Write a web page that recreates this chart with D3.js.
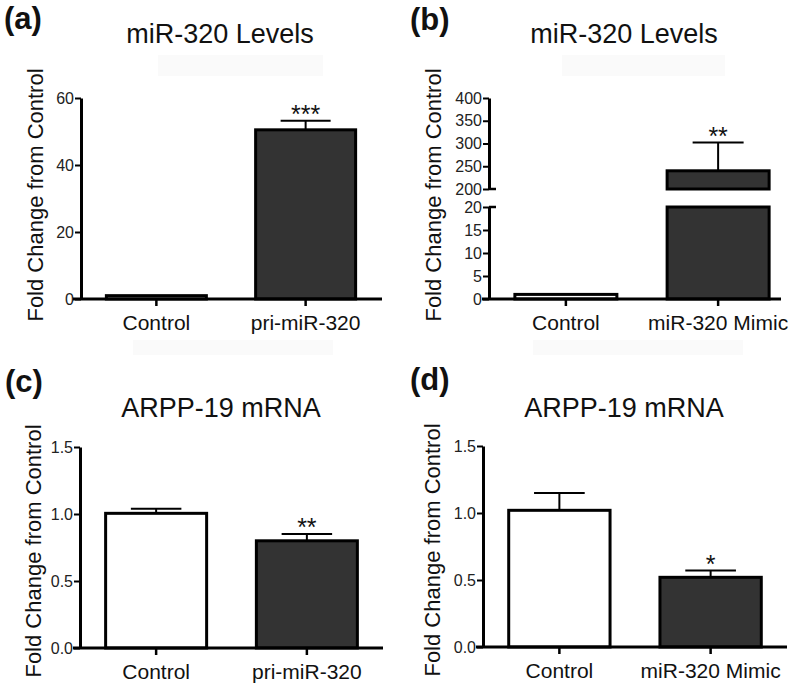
<!DOCTYPE html>
<html>
<head>
<meta charset="utf-8">
<script src="https://cdn.jsdelivr.net/npm/d3@7"></script>
<style>
  body { margin: 0; background: #fff; }
  svg { display: block; font-family: "Liberation Sans", Arial, sans-serif; }
</style>
</head>
<body>
<svg id="fig" width="800" height="694"></svg>
<script>
// ---- data ----
const panelLabels = ["(a)", "(b)", "(c)", "(d)"];
const panelTitles = ["miR-320 Levels", "miR-320 Levels", "ARPP-19 mRNA", "ARPP-19 mRNA"];
const yLabel = "Fold Change from Control";

const categoriesPri = ["Control", "pri-miR-320"];
const categoriesMimic = ["Control", "miR-320 Mimic"];

const meansA = [1, 50.5];
const errA = [0, 2.7];
const starsA = ["", "***"];

const meansB = [1, 240];
const errB = [0, 62];
const starsB = ["", "**"];

const meansC = [1.005, 0.80];
const errC = [0.035, 0.05];
const starsC = ["", "**"];

const meansD = [1.02, 0.52];
const errD = [0.13, 0.05];
const starsD = ["", "*"];

const ticksA = [0, 20, 40, 60];
const ticksBLow = [0, 5, 10, 15, 20];
const ticksBHigh = [200, 250, 300, 350, 400];
const ticksCD = [0, 0.5, 1.0, 1.5];

const barFill = ["#ffffff", "#333333"];

const svg = d3.select("#fig");

// faint grey blocks left over in the original image
const ghosts = [
  [158, 55, 165, 21], [562, 55, 163, 21],
  [133, 340, 200, 15], [533, 340, 210, 15]
];
svg.selectAll("rect.ghost").data(ghosts).join("rect")
  .attr("class", "ghost")
  .attr("x", d => d[0]).attr("y", d => d[1])
  .attr("width", d => d[2]).attr("height", d => d[3])
  .attr("fill", "#fafafa");

const fmtInt = d3.format("d");
const fmt1 = d3.format(".1f");

// one entry per panel; segments = pieces of the (possibly broken) y axis
const panels = [
  {
    label: panelLabels[0], title: panelTitles[0], cats: categoriesPri,
    means: meansA, errs: errA, stars: starsA,
    ax: 81, xStart: 73, xEnd: 382, base: 299, bandEnd: 381,
    titleX: 220, titleY: 43, labX: 4, labY: 29, yLabX: 35, yLabY: 195,
    segments: [{ domain: [0, 60], range: [299, 98], ticks: ticksA, fmt: fmtInt }]
  },
  {
    label: panelLabels[1], title: panelTitles[1], cats: categoriesMimic,
    means: meansB, errs: errB, stars: starsB,
    ax: 489, xStart: 482, xEnd: 781, base: 299, bandEnd: 795,
    titleX: 624, titleY: 43, labX: 410, labY: 30, yLabX: 433, yLabY: 195,
    segments: [
      { domain: [0, 20], range: [299, 207], ticks: ticksBLow, fmt: fmtInt },
      { domain: [200, 400], range: [189, 98], ticks: ticksBHigh, fmt: fmtInt }
    ]
  },
  {
    label: panelLabels[2], title: panelTitles[2], cats: categoriesPri,
    means: meansC, errs: errC, stars: starsC,
    ax: 80, xStart: 73, xEnd: 383, base: 648, bandEnd: 383,
    titleX: 221, titleY: 417, labX: 5, labY: 392, yLabX: 33, yLabY: 551,
    segments: [{ domain: [0, 1.5], range: [648, 447], ticks: ticksCD, fmt: fmt1 }]
  },
  {
    label: panelLabels[3], title: panelTitles[3], cats: categoriesMimic,
    means: meansD, errs: errD, stars: starsD,
    ax: 483, xStart: 476, xEnd: 787, base: 647, bandEnd: 787,
    titleX: 624, titleY: 417, labX: 410, labY: 390, yLabX: 432, yLabY: 550,
    segments: [{ domain: [0, 1.5], range: [647, 446], ticks: ticksCD, fmt: fmt1 }]
  }
];

panels.forEach(p => {
  const g = svg.append("g");

  const x = d3.scaleBand()
    .domain(p.cats)
    .range([p.ax, p.bandEnd])
    .paddingInner(0.33)
    .paddingOuter(0.17);

  const scales = p.segments.map(s => d3.scaleLinear().domain(s.domain).range(s.range));
  const segFor = v => scales.find(s => v >= s.domain()[0] && v <= s.domain()[1]) || scales[scales.length - 1];

  // bars, split over axis segments
  p.cats.forEach((c, i) => {
    const v = p.means[i];
    scales.forEach(s => {
      const [lo, hi] = s.domain();
      if (v <= lo) return;
      const top = s(Math.min(v, hi));
      g.append("rect")
        .attr("x", x(c))
        .attr("y", top)
        .attr("width", x.bandwidth())
        .attr("height", s(lo) - top)
        .attr("fill", barFill[i])
        .attr("stroke", "#000")
        .attr("stroke-width", 3);
    });

    // upper error bar
    const e = p.errs[i];
    if (e > 0) {
      const cx = x(c) + x.bandwidth() / 2;
      const yTop = segFor(v + e)(v + e);
      const yBar = segFor(v)(v);
      g.append("line")
        .attr("x1", cx).attr("x2", cx)
        .attr("y1", yBar).attr("y2", yTop)
        .attr("stroke", "#000").attr("stroke-width", 2);
      g.append("line")
        .attr("x1", cx - x.bandwidth() / 4).attr("x2", cx + x.bandwidth() / 4)
        .attr("y1", yTop).attr("y2", yTop)
        .attr("stroke", "#000").attr("stroke-width", 2);
      if (p.stars[i]) {
        g.append("text")
          .attr("x", cx)
          .attr("y", yTop + 2)
          .attr("text-anchor", "middle")
          .attr("font-size", 25)
          .attr("fill", "#111")
          .text(p.stars[i]);
      }
    }
  });

  // y axis (one piece per segment)
  p.segments.forEach((s, k) => {
    const ya = g.append("g")
      .attr("transform", `translate(${p.ax},0)`)
      .call(d3.axisLeft(scales[k])
        .tickValues(s.ticks)
        .tickFormat(s.fmt)
        .tickSize(6)
        .tickSizeOuter(0)
        .tickPadding(1));
    ya.select(".domain").attr("stroke-width", 3);
    ya.selectAll(".tick line").attr("stroke-width", 2);
    ya.selectAll(".tick text")
      .attr("font-size", 16)
      .attr("fill", "#222")
      .attr("font-family", "'Liberation Sans', Arial, sans-serif");
  });

  // break marks on the broken axis
  if (p.segments.length > 1) {
    const breakYs = [scales[0].range()[1], scales[1].range()[0]];
    g.selectAll("line.brk").data(breakYs).join("line")
      .attr("class", "brk")
      .attr("x1", p.ax).attr("x2", p.ax + 7)
      .attr("y1", d => d).attr("y2", d => d)
      .attr("stroke", "#000").attr("stroke-width", 2.5);
  }

  // x axis: base line plus category ticks / labels
  g.append("line")
    .attr("x1", p.xStart).attr("x2", p.xEnd)
    .attr("y1", p.base).attr("y2", p.base)
    .attr("stroke", "#000").attr("stroke-width", 3);

  const xa = g.append("g")
    .attr("transform", `translate(0,${p.base})`)
    .call(d3.axisBottom(x).tickSize(7).tickSizeOuter(0));
  xa.select(".domain").remove();
  xa.selectAll(".tick line").attr("stroke-width", 2.5);
  xa.selectAll(".tick text")
    .attr("y", 31)
    .attr("dy", 0)
    .attr("font-size", 21)
    .attr("fill", "#111")
    .attr("font-family", "'Liberation Sans', Arial, sans-serif");

  // y label
  g.append("text")
    .attr("transform", `translate(${p.yLabX},${p.yLabY}) rotate(-90)`)
    .attr("text-anchor", "middle")
    .attr("dominant-baseline", "central")
    .attr("font-size", 22)
    .attr("fill", "#111")
    .text(yLabel);

  // title
  g.append("text")
    .attr("x", p.titleX)
    .attr("y", p.titleY)
    .attr("text-anchor", "middle")
    .attr("font-size", 27)
    .attr("fill", "#111")
    .text(p.title);

  // panel letter
  g.append("text")
    .attr("x", p.labX)
    .attr("y", p.labY)
    .attr("font-size", 31)
    .attr("font-weight", "bold")
    .attr("fill", "#111")
    .text(p.label);
});
</script>
</body>
</html>
